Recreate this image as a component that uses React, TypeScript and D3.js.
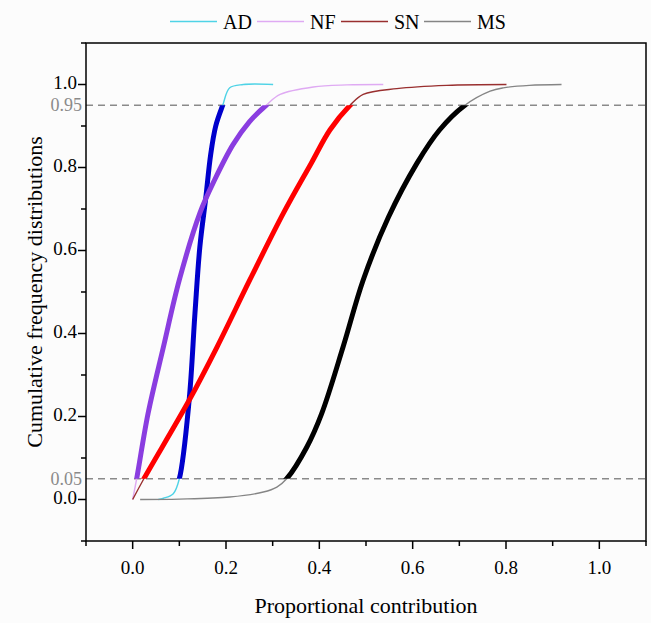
import React from 'react';
import * as d3 from 'd3';

// curve points: x = proportional contribution, y = cumulative frequency
const AD_X = [0.055, 0.066, 0.087, 0.1, 0.121, 0.1335, 0.144, 0.157, 0.167, 0.178, 0.193, 0.208, 0.237, 0.301];
const AD_Y = [0, 0.003, 0.014, 0.05, 0.239, 0.449, 0.609, 0.73, 0.83, 0.9, 0.95, 0.992, 1.0, 1.0];

const NF_X = [0, 0.0086, 0.033, 0.066, 0.1, 0.144, 0.176, 0.215, 0.25, 0.286, 0.316, 0.387, 0.459, 0.537];
const NF_Y = [0, 0.05, 0.207, 0.368, 0.529, 0.69, 0.771, 0.855, 0.91, 0.95, 0.976, 0.994, 0.999, 1.0];

const SN_X = [0, 0.024, 0.121, 0.181, 0.251, 0.323, 0.383, 0.423, 0.466, 0.494, 0.566, 0.673, 0.801];
const SN_Y = [0, 0.05, 0.239, 0.368, 0.529, 0.69, 0.811, 0.891, 0.95, 0.976, 0.99, 0.998, 1.0];

const MS_X = [0.016, 0.1, 0.208, 0.28, 0.309, 0.33, 0.373, 0.405, 0.451, 0.494, 0.548, 0.609, 0.658, 0.712, 0.766, 0.794, 0.85, 0.919];
const MS_Y = [0, 0.001, 0.006, 0.018, 0.03, 0.05, 0.126, 0.207, 0.368, 0.529, 0.68, 0.81, 0.891, 0.95, 0.984, 0.992, 0.998, 1.0];

const SERIES = ['AD', 'NF', 'SN', 'MS'];
const THIN_COLORS = ['#4fd3e6', '#dfaaf3', '#992f2f', '#858585'];
const THICK_COLORS = ['#0000cc', '#8a3de0', '#ff0000', '#000000'];

const X_MAJOR = [0, 0.2, 0.4, 0.6, 0.8, 1.0];
const X_MINOR = [-0.1, 0.1, 0.3, 0.5, 0.7, 0.9, 1.1];
const Y_MAJOR = [0, 0.2, 0.4, 0.6, 0.8, 1.0];
const Y_MINOR = [-0.1, 0.1, 0.3, 0.5, 0.7, 0.9, 1.1];
const GUIDES = [0.05, 0.95];

const W = 651, H = 623;
const left = 86, right = 646, top = 43, bottom = 541;
const FONT = '"Liberation Serif", "Times New Roman", serif';

export default function App() {
  const x = d3.scaleLinear().domain([-0.1, 1.1]).range([left, right]);
  const y = d3.scaleLinear().domain([-0.1, 1.1]).range([bottom, top]);

  const line = d3.line<[number, number]>()
    .x(d => x(d[0]))
    .y(d => y(d[1]))
    .curve(d3.curveCatmullRom.alpha(0.5));

  const data = [
    d3.zip(AD_X, AD_Y),
    d3.zip(NF_X, NF_Y),
    d3.zip(SN_X, SN_Y),
    d3.zip(MS_X, MS_Y),
  ] as [number, number][][];

  const legendX = [170, 257, 341, 424];

  return (
    <div style={{ position: 'absolute', left: 0, top: 0 }}>
      <svg width={W} height={H} style={{ display: 'block', background: '#fcfcfc' }} fontFamily={FONT}>
        <defs>
          <clipPath id="band">
            <rect x={left} y={y(GUIDES[1])} width={right - left} height={y(GUIDES[0]) - y(GUIDES[1])} />
          </clipPath>
        </defs>

        {/* legend */}
        {SERIES.map((s, i) => (
          <g key={s}>
            <line x1={legendX[i]} x2={legendX[i] + 47} y1={21.5} y2={21.5} stroke={THIN_COLORS[i]} strokeWidth={1.5} />
            <text x={legendX[i] + 53} y={28.5} fontSize={20} fill="#000">{s}</text>
          </g>
        ))}

        {/* guide lines at 5% and 95% */}
        {GUIDES.map(g => (
          <g key={g}>
            <line x1={left} x2={right} y1={y(g)} y2={y(g)} stroke="#8a8a8a" strokeWidth={1.5} strokeDasharray="7,5" />
            <text x={82} y={y(g) + 2} fontSize={18} fill="#8a8a8a" textAnchor="end" dominantBaseline="middle">{g}</text>
          </g>
        ))}

        {/* thin full curves */}
        {data.map((d, i) => (
          <path key={'thin' + i} d={line(d) || ''} fill="none" stroke={THIN_COLORS[i]} strokeWidth={1.4} />
        ))}
        {/* thick 5-95% parts */}
        <g clipPath="url(#band)">
          {data.map((d, i) => (
            <path key={'thick' + i} d={line(d) || ''} fill="none" stroke={THICK_COLORS[i]} strokeWidth={5} />
          ))}
        </g>

        {/* frame */}
        <rect x={left} y={top} width={right - left} height={bottom - top} fill="none" stroke="#000" strokeWidth={1.5} />

        {/* x axis */}
        {X_MAJOR.map(t => (
          <g key={'xm' + t}>
            <line x1={x(t)} x2={x(t)} y1={bottom} y2={bottom + 8} stroke="#000" strokeWidth={1.5} />
            <text x={x(t)} y={574} fontSize={19} textAnchor="middle">{t.toFixed(1)}</text>
          </g>
        ))}
        {X_MINOR.map(t => (
          <line key={'xn' + t} x1={x(t)} x2={x(t)} y1={bottom} y2={bottom + 5} stroke="#000" strokeWidth={1.5} />
        ))}

        {/* y axis */}
        {Y_MAJOR.map(t => (
          <g key={'ym' + t}>
            <line x1={left - 8} x2={left} y1={y(t)} y2={y(t)} stroke="#000" strokeWidth={1.5} />
            <text x={77} y={y(t)} fontSize={19} textAnchor="end" dominantBaseline="middle">{t.toFixed(1)}</text>
          </g>
        ))}
        {Y_MINOR.map(t => (
          <line key={'yn' + t} x1={left - 5} x2={left} y1={y(t)} y2={y(t)} stroke="#000" strokeWidth={1.5} />
        ))}

        {/* titles */}
        <text x={(left + right) / 2} y={613} fontSize={22} textAnchor="middle">Proportional contribution</text>
        <text transform={`translate(42, ${(top + bottom) / 2}) rotate(-90)`} fontSize={22} textAnchor="middle">
          Cumulative frequency distributions
        </text>
      </svg>
    </div>
  );
}
